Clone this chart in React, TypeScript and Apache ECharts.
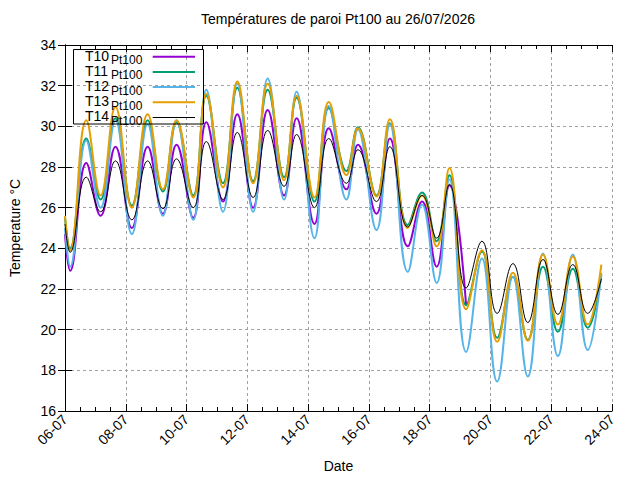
import React, { useEffect, useRef } from "react";
import * as echarts from "echarts";

const FONT = "'Liberation Sans', Arial, Helvetica, sans-serif";

const chartTitle = "Températures de paroi Pt100 au 26/07/2026";
const xName = "Date";
const yName = "Temperature °C";

const tickLabels = ["06-07", "08-07", "10-07", "12-07", "14-07", "16-07", "18-07", "20-07", "22-07", "24-07"];

// time in days since 06-07 00:00 (daily minima and maxima)
const timesDays = [
  0, 0.17, 0.7, 1.17, 1.66, 2.2, 2.72, 3.22, 3.67, 4.22,
  4.65, 5.2, 5.67, 6.19, 6.67, 7.21, 7.62, 8.21, 8.68, 9.26,
  9.64, 10.25, 10.69, 11.28, 11.75, 12.23, 12.65, 13.2, 13.72, 14.22,
  14.74, 15.23, 15.73, 16.22, 16.71, 17.2, 17.65,
];

const t10 = [
  24.7, 22.9, 28.2, 25.6, 29.0, 25.0, 29.0, 25.7, 29.1, 25.5,
  30.2, 26.3, 30.6, 26.0, 30.8, 26.6, 30.4, 25.2, 29.9, 26.9,
  29.1, 25.7, 29.4, 24.1, 26.3, 23.1, 27.1, 21.2,
];
const t11 = [
  25.5, 24.0, 29.4, 26.4, 30.4, 26.1, 30.3, 26.8, 30.2, 26.6,
  31.5, 27.2, 31.9, 27.3, 31.8, 27.5, 31.4, 26.3, 30.9, 27.8,
  29.95, 26.6, 30.15, 25.15, 26.75, 24.35, 27.6, 21.2, 23.85, 19.6,
  22.6, 19.5, 23.1, 19.9, 23.0, 20.1, 22.7,
];
const t12 = [
  25.0, 23.1, 29.3, 26.0, 30.3, 24.7, 30.1, 25.6, 30.3, 25.4,
  31.8, 25.8, 32.1, 25.8, 32.35, 26.4, 31.7, 24.5, 31.0, 26.4,
  29.85, 24.9, 30.1, 22.85, 26.15, 22.3, 27.4, 18.9, 23.5, 17.45,
  22.6, 17.7, 23.75, 18.7, 23.7, 19.0, 22.8,
];
const t13 = [
  25.6, 23.9, 30.3, 26.6, 30.95, 26.0, 30.6, 26.9, 30.3, 26.5,
  31.6, 27.0, 32.2, 27.2, 32.1, 27.35, 31.5, 26.5, 31.2, 27.6,
  29.9, 26.55, 30.35, 25.0, 26.6, 24.1, 27.95, 21.0, 23.9, 19.4,
  22.8, 19.45, 23.7, 20.25, 23.6, 20.25, 23.2,
];
const t14 = [
  25.2, 23.8, 27.5, 25.8, 28.3, 25.4, 28.3, 25.95, 28.4, 26.0,
  29.25, 26.4, 29.7, 26.5, 29.8, 27.05, 29.6, 26.0, 29.4, 27.2,
  28.85, 26.3, 29.0, 25.05, 26.6, 24.5, 27.15, 22.05, 24.35, 20.8,
  23.25, 20.35, 23.45, 20.75, 23.2, 20.8, 22.5,
];

const seriesNames = ["T10", "T11", "T12", "T13", "T14"];
const seriesSub = "Pt100";
const seriesValues = [t10, t11, t12, t13, t14];
const seriesColors = ["#9400d3", "#009e73", "#56b4e9", "#e69f00", "#000000"];
const seriesWidths = [2, 2, 2, 2, 1];

function buildOption(): any {
  const series = seriesNames.map((name, i) => ({
    name,
    type: "line",
    xAxisIndex: 0,
    yAxisIndex: 0,
    data: seriesValues[i].map((v, k) => [timesDays[k], v]),
    showSymbol: false,
    symbol: "none",
    smooth: 0.45,
    lineStyle: { color: seriesColors[i], width: seriesWidths[i] },
    itemStyle: { color: seriesColors[i] },
    z: 2 + i,
  }));

  const legendEls: any[] = [
    {
      type: "rect",
      shape: { x: 73.5, y: 49.5, width: 130, height: 74.5 },
      style: { fill: "none", stroke: "#000", lineWidth: 1 },
      z: 100,
    },
  ];
  seriesNames.forEach((name, i) => {
    const ly = 56.7 + 15.2 * i;
    legendEls.push({
      type: "text",
      x: 85,
      y: ly - 1.2,
      style: { text: name, font: `14px ${FONT}`, fill: "#000", align: "left", verticalAlign: "middle" },
      z: 100,
    });
    legendEls.push({
      type: "text",
      x: 111,
      y: ly + 3.4,
      style: { text: seriesSub, font: `12px ${FONT}`, fill: "#000", align: "left", verticalAlign: "middle" },
      z: 100,
    });
    legendEls.push({
      type: "line",
      shape: { x1: 152.7, y1: ly, x2: 195, y2: ly },
      style: { stroke: seriesColors[i], lineWidth: seriesWidths[i] },
      z: 100,
    });
  });

  const axisLineStyle = { show: true, lineStyle: { color: "#000", width: 1 } };
  const gridLine = { show: true, lineStyle: { color: "#a0a0a0", width: 1, type: [3, 3] } };

  return {
    animation: false,
    backgroundColor: "#fff",
    textStyle: { fontFamily: FONT, color: "#000" },
    title: {
      text: chartTitle,
      left: 338,
      top: 12,
      textAlign: "center",
      padding: 0,
      textStyle: { fontFamily: FONT, fontSize: 14, fontWeight: "normal", color: "#000" },
    },
    grid: { left: 64, right: 28, top: 45, bottom: 69, containLabel: false },
    xAxis: [
      {
        type: "value",
        position: "bottom",
        min: 0,
        max: 18,
        interval: 2,
        name: xName,
        nameLocation: "middle",
        nameGap: 48,
        nameTextStyle: { fontFamily: FONT, fontSize: 14, color: "#000" },
        axisLine: axisLineStyle,
        axisTick: { show: true, inside: true, length: 7, lineStyle: { color: "#000" } },
        minorTick: { show: true, splitNumber: 4, length: 4, lineStyle: { color: "#000" } },
        axisLabel: {
          rotate: 45,
          margin: 6,
          fontFamily: FONT,
          fontSize: 14,
          color: "#000",
          formatter: (v: number) => tickLabels[Math.round(v / 2)] ?? "",
        },
        splitLine: gridLine,
      },
      {
        type: "value",
        position: "top",
        min: 0,
        max: 18,
        interval: 2,
        axisLine: axisLineStyle,
        axisTick: { show: true, inside: true, length: 7, lineStyle: { color: "#000" } },
        minorTick: { show: true, splitNumber: 4, length: 4, lineStyle: { color: "#000" } },
        axisLabel: { show: false },
        splitLine: { show: false },
      },
    ],
    yAxis: [
      {
        type: "value",
        position: "left",
        min: 16,
        max: 34,
        interval: 2,
        name: yName,
        nameLocation: "middle",
        nameGap: 43,
        nameTextStyle: { fontFamily: FONT, fontSize: 14, color: "#000" },
        axisLine: axisLineStyle,
        axisTick: { show: true, inside: true, length: 7, lineStyle: { color: "#000" } },
        axisLabel: { margin: 9, fontFamily: FONT, fontSize: 14, color: "#000" },
        splitLine: gridLine,
      },
      {
        type: "value",
        position: "right",
        min: 16,
        max: 34,
        interval: 2,
        axisLine: axisLineStyle,
        axisTick: { show: true, inside: true, length: 7, lineStyle: { color: "#000" } },
        axisLabel: { show: false },
        splitLine: { show: false },
      },
    ],
    series,
    graphic: legendEls,
  };
}

export default function App() {
  const ref = useRef<HTMLDivElement>(null);
  useEffect(() => {
    document.body.style.margin = "0";
    const chart = echarts.init(ref.current as HTMLDivElement, null, { renderer: "svg" });
    chart.setOption(buildOption());
    return () => chart.dispose();
  }, []);
  return (
    <div
      ref={ref}
      style={{ position: "fixed", left: 0, top: 0, width: 640, height: 480, background: "#fff" }}
    />
  );
}
